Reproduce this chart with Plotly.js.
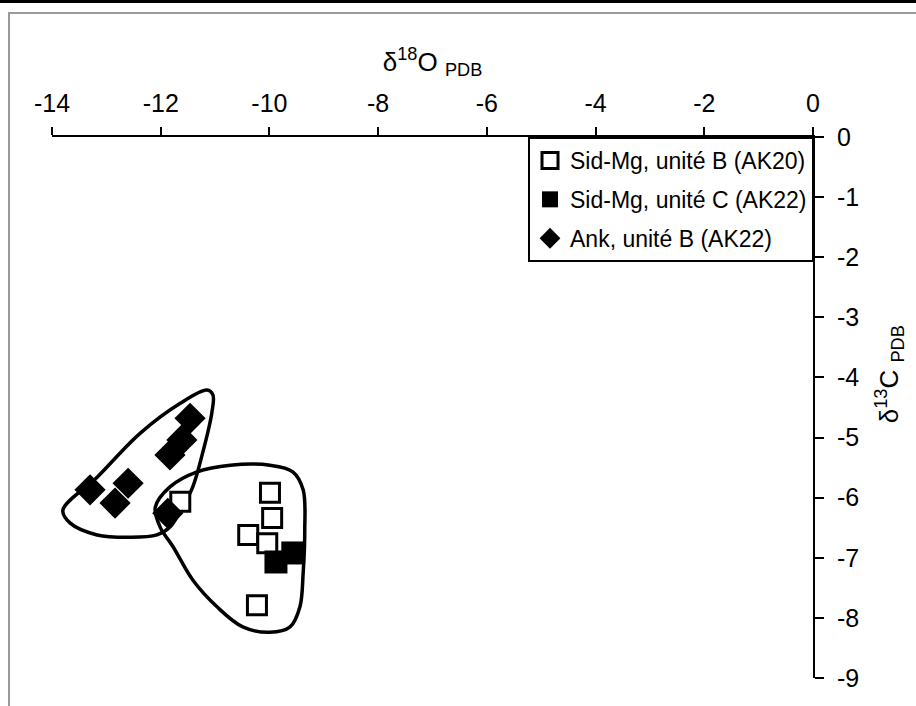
<!DOCTYPE html>
<html>
<head>
<meta charset="utf-8">
<script src="https://cdn.plot.ly/plotly-3.0.1.min.js"></script>
<style>
  body { margin: 0; background: #fff; }
  #chart { position: absolute; left: 0; top: 0; width: 916px; height: 706px; }
  .frame { position: absolute; pointer-events: none; }
</style>
</head>
<body>
<div class="frame" style="left:0;top:0;width:916px;height:3px;background:#000;"></div>
<div class="frame" style="left:8px;top:12px;width:908px;height:2px;background:#9a9a9a;"></div>
<div class="frame" style="left:8px;top:12px;width:2px;height:694px;background:#9a9a9a;"></div>
<div id="chart"></div>
<script>
// Sid-Mg, unité B (AK20) - open squares
const sidB_x = [-9.99, -9.95, -10.39, -10.04, -10.23, -11.64];
const sidB_y = [-5.92, -6.34, -6.62, -6.76, -7.79, -6.07];

// Sid-Mg, unité C (AK22) - filled squares
const sidC_x = [-9.57, -9.88];
const sidC_y = [-6.92, -7.07];

// Ank, unité B (AK22) - diamonds
const ank_x = [-13.30, -12.60, -12.84, -11.46, -11.61, -11.83, -11.87];
const ank_y = [-5.87, -5.76, -6.09, -4.68, -5.04, -5.29, -6.26];

// hand drawn envelopes round the two groups
const loopAnk_x = [-13.80, -13.17, -12.38, -11.64, -11.15, -11.04, -11.06, -11.23, -11.41, -11.60, -11.83, -12.07, -12.56, -13.17, -13.67, -13.80];
const loopAnk_y = [-6.21, -5.66, -4.93, -4.43, -4.21, -4.29, -4.59, -5.26, -5.82, -6.16, -6.49, -6.62, -6.66, -6.62, -6.42, -6.21];
const loopSid_x = [-12.10, -11.83, -11.33, -10.72, -9.99, -9.57, -9.38, -9.35, -9.38, -9.44, -9.62, -9.99, -10.49, -10.96, -11.41, -11.77, -12.01, -12.10];
const loopSid_y = [-6.16, -5.82, -5.57, -5.46, -5.46, -5.57, -5.87, -6.54, -7.26, -7.82, -8.15, -8.24, -8.15, -7.82, -7.37, -6.82, -6.49, -6.16];

const xTicks = [-14, -12, -10, -8, -6, -4, -2, 0];
const yTicks = [0, -1, -2, -3, -4, -5, -6, -7, -8, -9];

const fontFam = "Liberation Sans, Arial, sans-serif";

const loops = [[loopAnk_x, loopAnk_y], [loopSid_x, loopSid_y]].map(function (l) {
    return {
        type: "scatter",
        mode: "lines",
        x: l[0],
        y: l[1],
        line: { color: "#000", width: 3.5, shape: "spline", smoothing: 1 },
        showlegend: false,
        hoverinfo: "skip"
    };
});

const traces = loops.concat([
    {
        type: "scatter",
        mode: "markers",
        name: "Sid-Mg, unité B (AK20)",
        legendgroup: "a",
        x: sidB_x,
        y: sidB_y,
        marker: { symbol: "square", size: 19, color: "#fff", line: { color: "#000", width: 3 } }
    },
    {
        type: "scatter",
        mode: "markers",
        name: "Sid-Mg, unité C (AK22)",
        legendgroup: "b",
        x: sidC_x,
        y: sidC_y,
        marker: { symbol: "square", size: 23, color: "#000", line: { width: 0 } }
    },
    {
        type: "scatter",
        mode: "markers",
        name: "Ank, unité B (AK22)",
        legendgroup: "c",
        x: ank_x,
        y: ank_y,
        marker: { symbol: "diamond", size: 24, color: "#000", line: { width: 0 } }
    }
]);

Plotly.newPlot("chart", traces, {
    width: 916,
    height: 706,
    margin: { l: 52, r: 103, t: 137, b: 28 },
    paper_bgcolor: "rgba(0,0,0,0)",
    plot_bgcolor: "rgba(0,0,0,0)",
    font: { family: fontFam, color: "#000", size: 24 },

    xaxis: {
        side: "top",
        range: [-14, 0],
        tickvals: xTicks,
        ticktext: xTicks.map(String),
        ticks: "outside",
        ticklen: 8,
        tickwidth: 2,
        tickcolor: "#000",
        ticklabelstandoff: 5,
        showline: true,
        linecolor: "#000",
        linewidth: 2,
        showgrid: false,
        zeroline: false,
        tickfont: { size: 25 },
        title: { text: "δ<sup>18</sup>O <sub>PDB</sub>", font: { size: 26 }, standoff: 10 }
    },

    yaxis: {
        side: "right",
        range: [-9, 0],
        tickvals: yTicks,
        ticktext: yTicks.map(String),
        ticks: "outside",
        ticklen: 9,
        tickwidth: 2,
        tickcolor: "#000",
        ticklabelstandoff: 8,
        showline: true,
        linecolor: "#000",
        linewidth: 2,
        showgrid: false,
        zeroline: false,
        tickfont: { size: 25 }
    },

    annotations: [{
        text: "δ<sup>13</sup>C <sub>PDB</sub>",
        textangle: -90,
        xref: "paper",
        x: 1.101,
        xanchor: "center",
        yref: "y",
        y: -3.95,
        yanchor: "middle",
        showarrow: false,
        font: { size: 26 }
    }],

    legend: {
        x: 0.6255,
        xanchor: "left",
        y: 1,
        yanchor: "top",
        bgcolor: "#fff",
        bordercolor: "#000",
        borderwidth: 2,
        traceorder: "grouped",
        tracegroupgap: 6,
        font: { size: 23 }
    }
}, { displayModeBar: false, staticPlot: true });
</script>
</body>
</html>
